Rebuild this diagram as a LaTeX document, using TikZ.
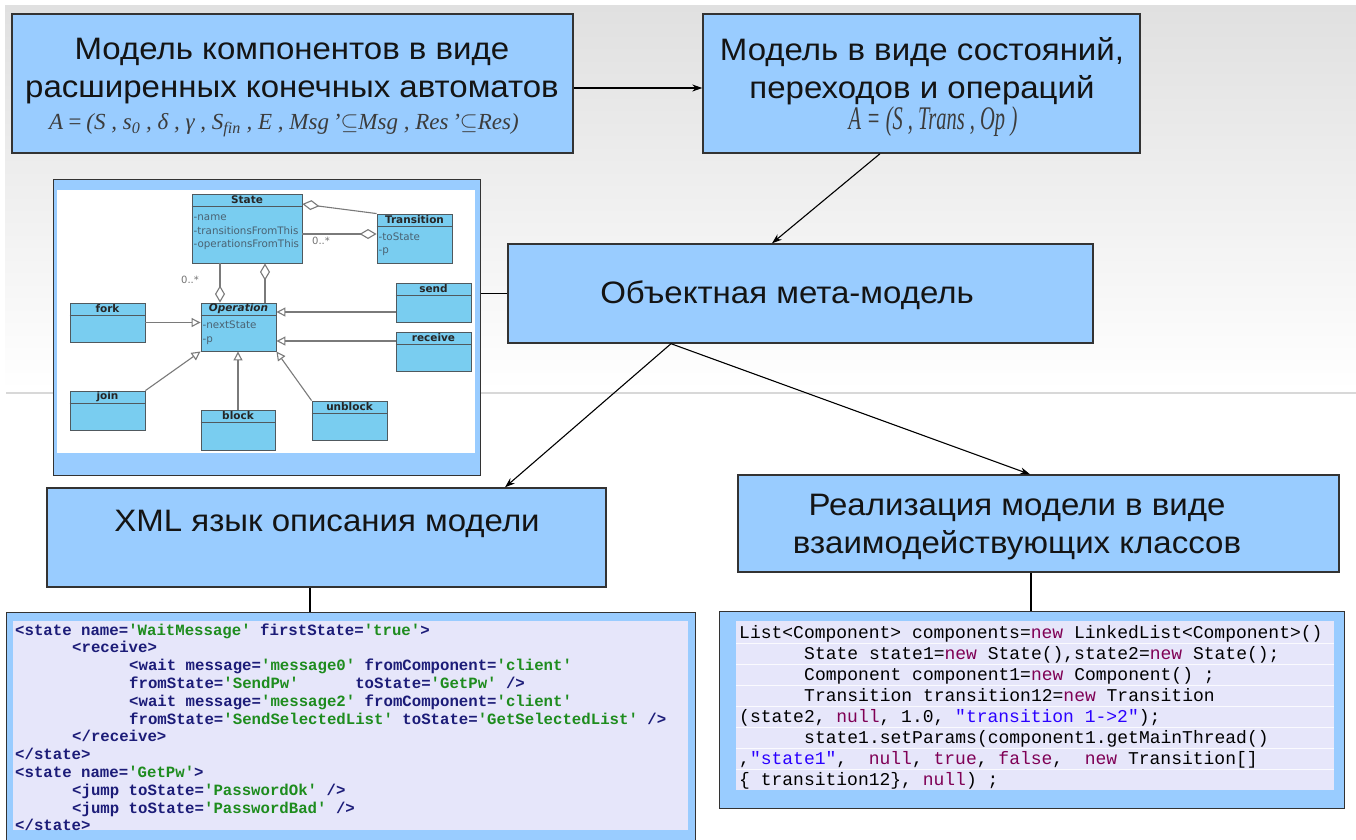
\RequirePackage{fix-cm}
\documentclass[tikz,border=0pt]{standalone}
\usepackage{fontspec}
\setmainfont{Liberation Sans}
\newfontfamily\titlefont{Liberation Sans}[FakeStretch=1.065]
\newfontfamily\formfont{Liberation Serif}
\newfontfamily\narrowform{Liberation Serif}[FakeStretch=0.62]
\newfontfamily\umlfont{DejaVu Sans}
\newfontfamily\codefont{Liberation Mono}[Ligatures=TeXOff]
\usetikzlibrary{arrows.meta, calc}
\definecolor{boxblue}{HTML}{99CCFF}
\definecolor{boxline}{HTML}{333333}
\definecolor{bgtop}{HTML}{E0E0E0}
\definecolor{bgline}{HTML}{D8D8D8}
\definecolor{umlfill}{HTML}{79CDF0}
\definecolor{umledge}{HTML}{50595E}
\definecolor{umltext}{HTML}{4A6272}
\definecolor{umlarrow}{HTML}{7A7A7A}
\definecolor{codebg}{HTML}{E6E6FA}
\definecolor{xmltag}{HTML}{1C1C78}
\definecolor{xmlval}{HTML}{1E8C1E}
\definecolor{javakw}{HTML}{7F0055}
\definecolor{javastr}{HTML}{2A00FF}
\definecolor{mathgray}{HTML}{3C3C3C}
\tikzset{
  box/.style={draw=boxline, fill=boxblue, line width=1.4pt, inner sep=0pt},
  title/.style={font=\titlefont\fontsize{31}{38}\selectfont, align=center, text=black!92},
  formula/.style={text=mathgray, inner sep=0pt},
  conn/.style={-{Stealth[length=10pt, width=7pt]}, line width=1.1pt, black},
  link/.style={line width=1.1pt, black},
  panel/.style={draw=boxline, fill=boxblue, line width=1.2pt, inner sep=0pt, anchor=north west},
  umlcls/.style={draw=umledge, fill=umlfill, line width=0.9pt, inner sep=0pt},
  umlname/.style={font=\umlfont\bfseries\fontsize{10.5}{11}\selectfont, text=black!85, inner sep=0pt},
  umlattr/.style={font=\umlfont\fontsize{10.3}{11}\selectfont, text=umltext, inner sep=0pt, anchor=base west},
  mult/.style={font=\umlfont\fontsize{10}{11}\selectfont, text=black!55, inner sep=0pt},
  gen/.style={-{Triangle[open, length=9pt, width=9pt]}, line width=1.1pt, draw=umlarrow},
  agg/.style={{Diamond[open, length=17pt, width=10pt]}-, line width=1.1pt, draw=umlarrow},
  xml/.style={font=\codefont\bfseries\fontsize{15.7}{17.8}\selectfont, text=xmltag, anchor=base west, inner sep=0pt},
  java/.style={font=\codefont\fontsize{18}{21}\selectfont, text=black, anchor=base west, inner sep=0pt}
}
% one UML class: name, left, top, width, height, title
\newcommand\umlclass[6]{%
  \node[umlcls, minimum width=#4pt, minimum height=#5pt] (#1) at ({#2+#4/2},{#3+#5/2}) {};
  \draw[draw=umledge, line width=0.9pt] ([yshift=-13pt]#1.north west) -- ([yshift=-13pt]#1.north east);
  \node[umlname] (#1name) at ([yshift=-6.5pt]#1.north) {#6};}
\newcommand\xv[1]{\textcolor{xmlval}{#1}}
\newcommand\jkw[1]{\textcolor{javakw}{#1}}
\newcommand\jstr[1]{\textcolor{javastr}{#1}}

\begin{document}
\begin{tikzpicture}[x=1pt, y=-1pt]
\useasboundingbox (0,0) rectangle (1356,839);
\fill[white] (0,0) rectangle (1356,839);
\shade[top color=bgtop, bottom color=white] (5,5) rectangle (1356,391);
\draw[bgline, line width=1.3pt] (6,393) -- (1356,393);

% blocks
\node[box, minimum width=561pt, minimum height=139pt] (modelbox) at (292.5,83.5) {};
\node[title] (modeltext) at (292,71) {Модель компонентов в виде\\расширенных конечных автоматов};
\node[formula, font=\formfont\itshape\fontsize{23}{25}\selectfont] (modelform) at (284,125)
  {A\,=\,(S , s\textsubscript{0} , δ , γ , S\textsubscript{fin} , E , Msg\,’$\subseteq$Msg , Res\,’$\subseteq$Res)};

\node[box, minimum width=437pt, minimum height=139pt] (statesbox) at (921.5,83.5) {};
\node[title] (statestext) at (922,71) {Модель в виде состояний,\\переходов и операций};
\node[formula, font=\narrowform\itshape\fontsize{33}{36}\selectfont] (statesform) at (933,122) {A\,=\,(S , Trans , Op\,)};

\node[box, minimum width=585pt, minimum height=99pt] (metabox) at (800.5,293.5) {};
\node[title] (metatext) at (787,295) {Объектная мета-модель};

\node[box, minimum width=559pt, minimum height=99pt] (xmlbox) at (326.5,537.5) {};
\node[title] (xmltext) at (327,524) {XML язык описания модели};

\node[box, minimum width=601pt, minimum height=97pt] (implbox) at (1038.5,523.5) {};
\node[title] (impltext) at (1017,527) {Реализация модели в виде\\взаимодействующих классов};

% class diagram
\node[panel, minimum width=427pt, minimum height=296pt] (umlpanel) at (53,179) {};
\fill[white] (57,190) rectangle (475,453);
\umlclass{cstate}{192}{194}{110}{69}{State}
\umlclass{ctrans}{377}{214}{75}{49}{Transition}
\umlclass{coper}{201}{303}{75}{48}{\itshape Operation}
\umlclass{cfork}{70}{303}{75}{39}{fork}
\umlclass{csend}{396}{283}{75}{39}{send}
\umlclass{crecv}{396}{332}{75}{39}{receive}
\umlclass{cjoin}{70}{391}{75}{39}{join}
\umlclass{cblock}{201}{410}{74}{40}{block}
\umlclass{cunblock}{312}{401}{75}{39}{unblock}
\node[umlattr] (sattr1) at (193.5,220.5) {-name};
\node[umlattr] (sattr2) at (193.5,234) {-transitionsFromThis};
\node[umlattr] (sattr3) at (193.5,247.5) {-operationsFromThis};
\node[umlattr] (tattr1) at (378.5,240) {-toState};
\node[umlattr] (tattr2) at (378.5,253.5) {-p};
\node[umlattr] (oattr1) at (202.5,328) {-nextState};
\node[umlattr] (oattr2) at (202.5,342) {-p};

\coordinate (slink) at ([yshift=-5.5pt]cstate.east);
\coordinate (opl) at ([xshift=-18.5pt]coper.north);
\coordinate (opr) at ([xshift=26.5pt]coper.north);
\draw[agg] ([yshift=24.5pt]cstate.east) -- (ctrans.north west);
\draw[agg] (ctrans.west |- slink) -- (slink);
\draw[agg] (opl) -- (opl |- cstate.south);
\draw[agg] (opr |- cstate.south) -- (opr);
\node[mult] (mult1) at (321,241) {0..*};
\node[mult] (mult2) at (190,280) {0..*};

\coordinate (sendpt) at ([yshift=-9.5pt]csend.west);
\coordinate (recvpt) at ([yshift=10.5pt]crecv.west);
\draw[gen] (cfork.east) -- (coper.west |- cfork.east);
\draw[gen] (sendpt) -- (coper.east |- sendpt);
\draw[gen] (recvpt) -- (coper.east |- recvpt);
\draw[gen] (cjoin.north east) -- (coper.south west);
\draw[gen] (cblock.north) -- (coper.south -| cblock.north);
\draw[gen] (cunblock.north west) -- (coper.south east);

% XML listing
\node[panel, minimum width=689pt, minimum height=240pt] (xmlpanel) at (6,612) {};
\fill[codebg] (13,621) rectangle (688,830);
\node[xml] (xl1) at (15,635) {<state name=\xv{'WaitMessage'} firstState=\xv{'true'}>};
\node[xml] (xl2) at (72,652.8) {<receive>};
\node[xml] (xl3) at (129,670.6) {<wait message=\xv{'message0'} fromComponent=\xv{'client'}};
\node[xml] (xl4) at (129,688.4) {fromState=\xv{'SendPw'}\ \ \ \ \ \ toState=\xv{'GetPw'} />};
\node[xml] (xl5) at (129,706.2) {<wait message=\xv{'message2'} fromComponent=\xv{'client'}};
\node[xml] (xl6) at (129,724) {fromState=\xv{'SendSelectedList'} toState=\xv{'GetSelectedList'} />};
\node[xml] (xl7) at (72,741.8) {</receive>};
\node[xml] (xl8) at (15,759.6) {</state>};
\node[xml] (xl9) at (15,777.4) {<state name=\xv{'GetPw'}>};
\node[xml] (xl10) at (72,795.2) {<jump toState=\xv{'PasswordOk'} />};
\node[xml] (xl11) at (72,813) {<jump toState=\xv{'PasswordBad'} />};
\node[xml] (xl12) at (15,830.8) {</state>};

% Java listing
\node[panel, minimum width=625pt, minimum height=197pt] (javapanel) at (719,611) {};
\fill[codebg] (736,621) rectangle (1334,790);
\foreach \y in {643,664,685,706,727,748,769}
  \draw[white, opacity=0.8, line width=0.8pt] (736,\y) -- (1334,\y);
\node[java] (jl1) at (739,638) {List<Component> components=\jkw{new} LinkedList<Component>()};
\node[java] (jl2) at (804,659) {State state1=\jkw{new} State(),state2=\jkw{new} State();};
\node[java] (jl3) at (804,680) {Component component1=\jkw{new} Component() ;};
\node[java] (jl4) at (804,701) {Transition transition12=\jkw{new} Transition};
\node[java] (jl5) at (739,722) {(state2, \jkw{null}, 1.0, \jstr{"transition 1->2"});};
\node[java] (jl6) at (804,743) {state1.setParams(component1.getMainThread()};
\node[java] (jl7) at (739,764) {,\jstr{"state1"},\ \ \jkw{null}, \jkw{true}, \jkw{false},\ \ \jkw{new} Transition[]};
\node[java] (jl8) at (739,785) {\{ transition12\}, \jkw{null}) ;};

% connectors
\coordinate (split) at ([xshift=-129.5pt]metabox.south);
\coordinate (xmldrop) at ([xshift=-16.5pt]xmlbox.south);
\coordinate (javadrop) at ([xshift=-7.5pt]implbox.south);
\draw[conn] ([yshift=-4.5pt]modelbox.east) -- ([yshift=-4.5pt]statesbox.west);
\draw[conn] ([xshift=-41.5pt]statesbox.south) -- ([xshift=-28.5pt]metabox.north);
\draw[link] (metabox.west) -- (umlpanel.east |- metabox.west);
\draw[conn] (split) -- ([xshift=178.5pt]xmlbox.north);
\draw[conn] (split) -- ([xshift=-8.5pt]implbox.north);
\draw[link] (xmldrop) -- (xmldrop |- xmlpanel.north);
\draw[link] (javadrop) -- (javadrop |- javapanel.north);
\end{tikzpicture}
\end{document}
